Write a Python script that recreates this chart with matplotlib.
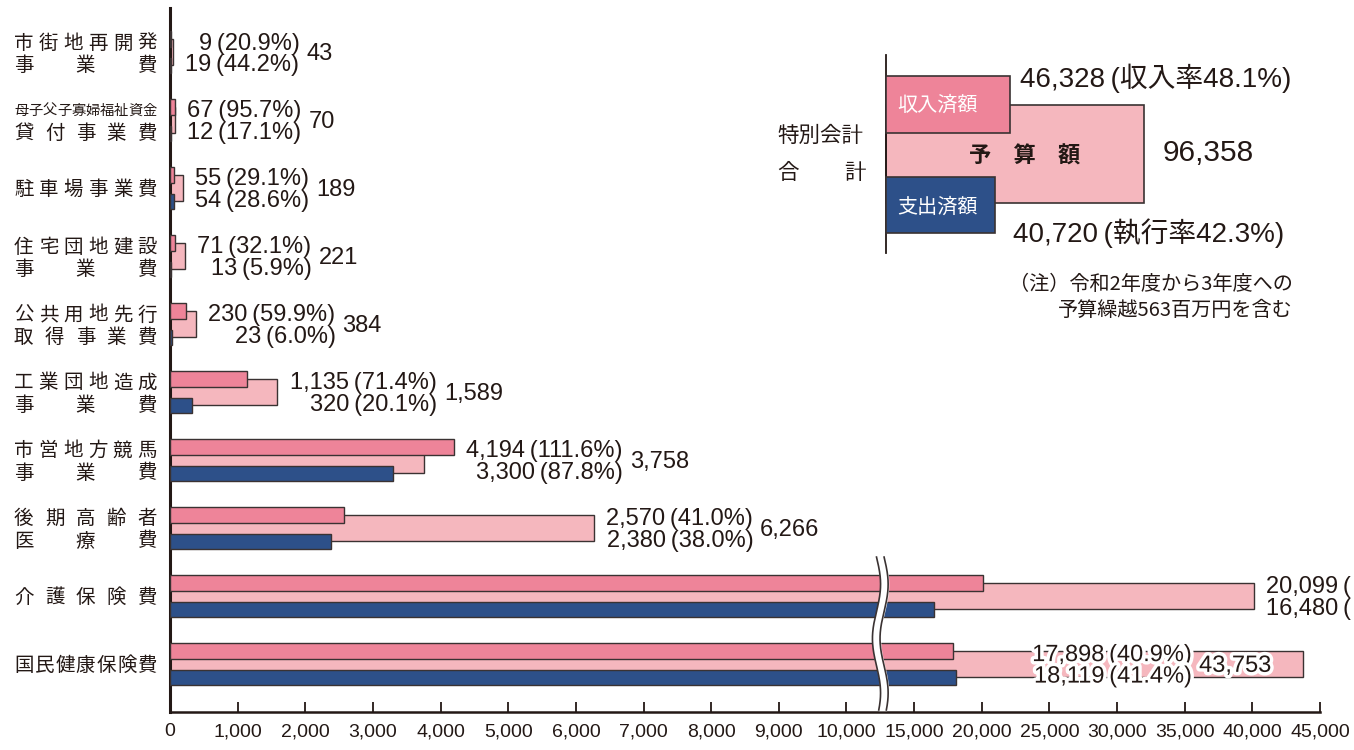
import numpy as np
import matplotlib.pyplot as plt
import matplotlib.patheffects as pe
import matplotlib.transforms as mtrans
from matplotlib.patches import Rectangle
from matplotlib.ticker import FixedLocator, FuncFormatter

plt.rcParams['font.family'] = ['Liberation Sans', 'Noto Sans CJK JP', 'DejaVu Sans']
CJK = ['Noto Sans CJK JP', 'DejaVu Sans']

# 特別会計の事業別 予算額・収入済額・支出済額（百万円）
categories = [["市街地再開発", "事業費"], ["母子父子寡婦福祉資金", "貸付事業費"], ["駐車場事業費"],
              ["住宅団地建設", "事業費"], ["公共用地先行", "取得事業費"], ["工業団地造成", "事業費"],
              ["市営地方競馬", "事業費"], ["後期高齢者", "医療費"], ["介護保険費"], ["国民健康保険費"]]
budget = [43, 70, 189, 221, 384, 1589, 3758, 6266, 40085, 43753]
revenue = [9, 67, 55, 71, 230, 1135, 4194, 2570, 20099, 17898]
spent = [19, 12, 54, 13, 23, 320, 3300, 2380, 16480, 18119]
xticks = [0, 1000, 2000, 3000, 4000, 5000, 6000, 7000, 8000, 9000, 10000,
          15000, 20000, 25000, 30000, 35000, 40000, 45000]
note = ["（注）令和2年度から3年度への", "予算繰越563百万円を含む"]

C_REV = '#ee8499'
C_BUD = '#f5b7be'
C_EXP = '#2d5089'
EDGE = '#3a3232'
INK = '#231815'
TS = '\u2009'          # 括弧前の細いすき間

label_x = {9: 22800}   # 国民健康保険費のラベルはバーの上に置く
cut_off = {8}          # 介護保険費のラベルは右端で切れている


def fwd(v):
    v = np.asarray(v, dtype=float)
    return np.where(v <= 10000, v / 1000, 10 + (v - 10000) / 5000)


def inv(u):
    u = np.asarray(u, dtype=float)
    return np.where(u <= 10, u * 1000, 10000 + (u - 10) * 5000)


fig = plt.figure(figsize=(13.54, 7.5), dpi=100)
ax = fig.add_axes([170 / 1354, 38 / 750, 1150 / 1354, 704 / 750])
ax.set_xscale('function', functions=(fwd, inv))
ax.set_xlim(0, 45000)
ax.set_ylim(9.71, -0.65)

y = np.arange(len(budget))
ax.barh(y, budget, height=0.38, color=C_BUD, edgecolor=EDGE, lw=1, zorder=2)
ax.barh(y - 0.19, revenue, height=0.235, color=C_REV, edgecolor=EDGE, lw=1, zorder=3)
ax.barh(y + 0.2, spent, height=0.22, color=C_EXP, edgecolor=EDGE, lw=1, zorder=3)

for s in ['top', 'right']:
    ax.spines[s].set_visible(False)
ax.spines['left'].set_linewidth(2.2)
ax.spines['bottom'].set_linewidth(1.8)
ax.spines['left'].set_color(INK)
ax.spines['bottom'].set_color(INK)
ax.set_yticks([])
ax.xaxis.set_major_locator(FixedLocator(xticks))
ax.xaxis.set_major_formatter(FuncFormatter(lambda v, p: f"{int(round(v)):,}"))
ax.tick_params(axis='x', direction='in', length=7, width=1.3, color=INK,
               labelsize=14, labelcolor=INK, pad=8)

# 軸の省略（波線）
yy = np.linspace(7.43, 9.68, 200)
wave = 300 * np.sin((yy - 7.43) * 2 * np.pi / 1.6)
ax.fill_betweenx(yy, 12500 - 280 + wave, 12500 + 280 + wave, color='white', zorder=4)
ax.plot(12500 - 280 + wave, yy, color=EDGE, lw=1.2, zorder=5)
ax.plot(12500 + 280 + wave, yy, color=EDGE, lw=1.2, zorder=5)

# 数値ラベル
for i in range(len(budget)):
    end = max(budget[i], revenue[i], spent[i])
    x = label_x.get(i, end)
    if i in cut_off:
        txt = f"{revenue[i]:,}{TS}(\n{spent[i]:,}{TS}("
    else:
        txt = (f"{revenue[i]:,}{TS}({revenue[i] / budget[i] * 100:.1f}%)\n"
               f"{spent[i]:,}{TS}({spent[i] / budget[i] * 100:.1f}%)")
    effects = [pe.withStroke(linewidth=5, foreground='white')] if i in label_x else None
    t = ax.annotate(txt, xy=(x, i), xytext=(9, -1.5), textcoords='offset points',
                    ha='left', va='center', multialignment='right', fontsize=17,
                    linespacing=0.97, color=INK, zorder=6, annotation_clip=False,
                    path_effects=effects)
    if i not in cut_off:
        ax.annotate(f"{budget[i]:,}", xy=(1, 0.5), xycoords=t, xytext=(5, 0),
                    textcoords='offset points', ha='left', va='center', fontsize=17,
                    color=INK, zorder=6, path_effects=effects)

# 項目名（均等割付）
ytrans = ax.get_yaxis_transform()


def spread(text, i, dy_pt, size):
    w = size / 72 * 100
    x0, x1 = 14 + w / 2, 157 - w / 2
    xs = np.linspace(x0, x1, len(text))
    tr = mtrans.offset_copy(ytrans, fig=fig, y=dy_pt, units='points')
    for xp, ch in zip(xs, text):
        ax.text((xp - 170) / 1150, i, ch, transform=tr, ha='center', va='center',
                fontsize=size, color=INK, clip_on=False, family=CJK)


for i, lines in enumerate(categories):
    if len(lines) == 1:
        spread(lines[0], i, -1, 14)
    else:
        size1 = 10.3 if len(lines[0]) > 7 else 14
        spread(lines[0], i, 6.5, size1)
        spread(lines[1], i, -9.5, 14)

# 凡例（特別会計合計）
over = fig.add_axes([0, 0, 1, 1])
over.set_xlim(0, 1354)
over.set_ylim(750, 0)
over.axis('off')
over.plot([886, 886], [55, 253], color=INK, lw=1.3)
over.add_patch(Rectangle((886, 105), 258, 98, facecolor=C_BUD, edgecolor=EDGE, lw=1.2, zorder=1))
over.add_patch(Rectangle((886, 76), 124, 57, facecolor=C_REV, edgecolor=EDGE, lw=1.2, zorder=2))
over.add_patch(Rectangle((886, 177), 109, 56, facecolor=C_EXP, edgecolor=EDGE, lw=1.2, zorder=2))
tot_b, tot_r, tot_s = sum(budget), sum(revenue), sum(spent)
over.text(897, 105, "収入済額", color='white', fontsize=14.5, va='center', zorder=3, family=CJK)
over.text(897, 207, "支出済額", color='white', fontsize=14.5, va='center', zorder=3, family=CJK)
over.text(1025, 156, "予　算　額", color=INK, fontsize=16, fontweight='bold',
          ha='center', va='center', zorder=3, family=CJK)
over.text(1020, 78, f"{tot_r:,}{TS}(収入率{tot_r / tot_b * 100:.1f}%)", fontsize=20, color=INK, va='center')
over.text(1163, 153, f"{tot_b:,}", fontsize=21.5, color=INK, va='center')
over.text(1013, 233, f"{tot_s:,}{TS}(執行率{tot_s / tot_b * 100:.1f}%)", fontsize=20, color=INK, va='center')
over.text(777, 136, "特別会計", fontsize=15.5, color=INK, va='center', family=CJK)
over.text(777, 173, "合", fontsize=15.5, color=INK, va='center', family=CJK)
over.text(866, 173, "計", fontsize=15.5, color=INK, va='center', ha='right', family=CJK)
over.text(1293, 284, note[0], fontsize=14.5, color=INK, va='center', ha='right', family=CJK)
over.text(1293, 310, note[1], fontsize=14.5, color=INK, va='center', ha='right', family=CJK)

fig.savefig("out.png", dpi=100)
